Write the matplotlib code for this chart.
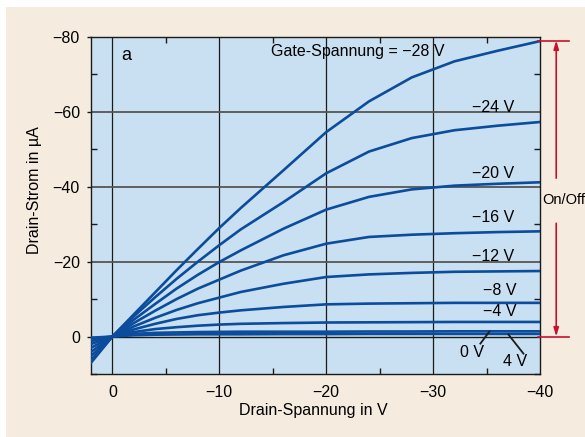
import matplotlib
matplotlib.use("Agg")
import matplotlib.pyplot as plt
from matplotlib.patches import Rectangle
from matplotlib.ticker import MultipleLocator

# ---- data ----
drain_v = [2, 0, -2, -4, -6, -8, -10, -12, -16, -20, -24, -28, -32, -36, -40]
gate_labels = ["Gate-Spannung = \u221228 V", "\u221224 V", "\u221220 V", "\u221216 V",
               "\u221212 V", "\u22128 V", "\u22124 V", "0 V", "4 V"]
i_m28 = [7.0, 0, -5.9, -11.8, -17.7, -23.4, -29.0, -34.3, -44.4, -54.6, -62.8, -69.2, -73.5, -76.3, -78.9]
i_m24 = [6.3, 0, -5.4, -10.5, -15.4, -20.0, -24.4, -28.6, -35.9, -43.6, -49.4, -53.0, -55.1, -56.3, -57.3]
i_m20 = [5.2, 0, -4.5, -8.7, -12.8, -16.5, -19.9, -23.0, -28.8, -33.9, -37.3, -39.3, -40.3, -40.8, -41.2]
i_m16 = [4.1, 0, -3.6, -6.9, -10.0, -12.8, -15.2, -17.6, -21.7, -24.8, -26.6, -27.2, -27.6, -27.9, -28.1]
i_m12 = [3.0, 0, -2.7, -5.0, -7.1, -8.9, -10.4, -11.9, -14.1, -15.9, -16.6, -17.0, -17.3, -17.4, -17.5]
i_m8 = [2.0, 0, -1.9, -3.4, -4.7, -5.7, -6.4, -7.0, -7.9, -8.6, -8.8, -8.9, -9.0, -9.0, -9.0]
i_m4 = [1.2, 0, -1.2, -2.0, -2.5, -2.9, -3.2, -3.4, -3.6, -3.75, -3.8, -3.85, -3.9, -3.9, -3.9]
i_0 = [0.6, 0, -0.7, -1.0, -1.1, -1.2, -1.25, -1.3, -1.3, -1.3, -1.35, -1.35, -1.4, -1.4, -1.4]
i_p4 = [0.3, 0, -0.35, -0.5, -0.55, -0.6, -0.6, -0.6, -0.65, -0.65, -0.7, -0.7, -0.7, -0.7, -0.7]
series = [i_m28, i_m24, i_m20, i_m16, i_m12, i_m8, i_m4, i_0, i_p4]

x_ticks = [0, -10, -20, -30, -40]
y_ticks = [0, -20, -40, -60, -80]

# ---- style ----
W, H = 585, 437
BEIGE = "#f5ecdf"
AXBG = "#c9e0f2"
BLUE = "#0b4c9c"
RED = "#c8102e"
FONT = ["Liberation Sans", "DejaVu Sans"]
plt.rcParams["font.family"] = FONT
plt.rcParams["axes.unicode_minus"] = True

fig = plt.figure(figsize=(W / 100, H / 100), dpi=100)
fig.patch.set_facecolor("white")
fig.patches.append(Rectangle((6 / W, 0), 1 - 6 / W, 1 - 7 / H, transform=fig.transFigure,
                             facecolor=BEIGE, edgecolor="none", zorder=-10))

ax = fig.add_axes([91 / W, 1 - 374 / H, (540 - 91) / W, (374 - 37) / H])
ax.set_facecolor(AXBG)
ax.set_xlim(2, -40)
ax.set_ylim(10, -80)

# grid
for xv in x_ticks[:-1]:
    ax.axvline(xv, color="#1a1a1a", lw=0.9, zorder=1)
for yv in y_ticks[1:-1]:
    ax.axhline(yv, color="#555555", lw=1.3, zorder=1)
ax.axhline(0, color="#1a1a1a", lw=1.0, zorder=1)

for ys in series:
    ax.plot(drain_v, ys, color=BLUE, lw=1.9, zorder=3, solid_joinstyle="round")

for s in ax.spines.values():
    s.set_color("#1a1a1a")
    s.set_linewidth(1.0)

ax.xaxis.set_minor_locator(MultipleLocator(5))
ax.yaxis.set_minor_locator(MultipleLocator(10))
ax.set_xticks(x_ticks)
ax.set_yticks(y_ticks)
ax.set_xticklabels(["0", "\u221210", "\u221220", "\u221230", "\u221240"])
ax.set_yticklabels(["0", "\u221220", "\u221240", "\u221260", "\u221280"])
ax.tick_params(axis="both", which="major", direction="out", length=3, width=1.0,
               labelsize=11.5, color="#1a1a1a", pad=5)
ax.tick_params(axis="x", which="major", length=0, pad=8)
ax.tick_params(axis="both", which="minor", direction="in", length=4, width=1.0,
               top=True, right=True, color="#1a1a1a")

fig.text(35 / W, 1 - 190 / H, "Drain-Strom in \u00b5A", rotation=90, ha="center",
         va="center", fontsize=11.5, family=FONT)
fig.text(313 / W, 1 - 411 / H, "Drain-Spannung in V", ha="center", va="center",
         fontsize=11.5, family=FONT)

# labels in data coords (converted from reference pixel positions)
def px2data(px, py):
    return -(px - 112.7) / 10.67, (py - 336.0) / 3.735

ax.text(*px2data(127, 56), "a", fontsize=13, ha="center", va="center", zorder=5)
label_pos = [(358, 52), (493, 108), (493, 173), (493, 217), (493, 256),
             (499, 290), (499, 311), (472, 352), (515, 361)]
for (px, py), lab in zip(label_pos, gate_labels):
    ax.text(*px2data(px, py), lab, fontsize=11.5, ha="center", va="center", zorder=5,
            clip_on=False)

# pointer lines for 0 V and 4 V
x0, y0 = px2data(489, 331); x1, y1 = px2data(480, 343)
ax.plot([x0, x1], [y0, y1], color="#1a1a1a", lw=1.3, zorder=4)
x0, y0 = px2data(508, 334); x1, y1 = px2data(523, 353)
ax.plot([x0, x1], [y0, y1], color="#1a1a1a", lw=1.3, zorder=4)

# On/Off red marker
on_i = i_m28[-1]
off_i = i_p4[-1] + 0.7
xa, _ = px2data(538, 0); xb, _ = px2data(568, 0); xc, _ = px2data(555.7, 0)
ax.plot([xa, xb], [on_i, on_i], color=RED, lw=1.2, clip_on=False, zorder=6)
ax.plot([xa, xb], [off_i, off_i], color=RED, lw=1.2, clip_on=False, zorder=6)
_, ytop = px2data(0, 178)
_, ybot = px2data(0, 223)
ax.annotate("", xy=(xc, on_i - 0.2), xytext=(xc, ytop), annotation_clip=False,
            arrowprops=dict(arrowstyle="-|>,head_length=0.5,head_width=0.15",
                            color=RED, lw=1.2, shrinkA=0, shrinkB=0))
ax.annotate("", xy=(xc, off_i), xytext=(xc, ybot), annotation_clip=False,
            arrowprops=dict(arrowstyle="-|>,head_length=0.5,head_width=0.15",
                            color=RED, lw=1.2, shrinkA=0, shrinkB=0))
fig.text(542 / W, 1 - 200 / H, "On/Off", ha="left", va="center", fontsize=10.5, family=FONT)

fig.savefig("out.png", dpi=100, facecolor=fig.get_facecolor())
